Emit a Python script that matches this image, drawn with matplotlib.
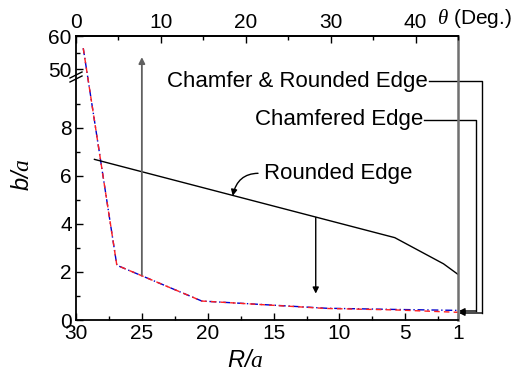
import numpy as np
import matplotlib
matplotlib.use('Agg')
import matplotlib.pyplot as plt
from matplotlib.ticker import FixedLocator

plt.rcParams['font.family'] = ['Liberation Sans', 'DejaVu Sans']
plt.rcParams['mathtext.fontset'] = 'custom'
plt.rcParams['mathtext.it'] = 'Liberation Serif:italic'
plt.rcParams['mathtext.sf'] = 'Liberation Sans:italic'
plt.rcParams['mathtext.rm'] = 'Liberation Sans'

# data
r_chamfer = [29.45, 26.9, 20.45, 11.0, 5.8, 1.0]
b_chamfer = [56.3, 2.28, 0.79, 0.48, 0.42, 0.32]       # red dashed
b_chamfer_round = [56.3, 2.28, 0.79, 0.49, 0.44, 0.40]  # blue dash-dot
r_round = [28.6, 5.8, 2.1, 1.0]
b_round = [6.69, 3.43, 2.34, 1.9]

x_ticks = [30, 25, 20, 15, 10, 5, 1]
x_minor = [27.5, 22.5, 17.5, 12.5, 7.5, 2.5]
y_ticks = [0, 2, 4, 6, 8, 50, 60]
y_minor = [1, 3, 5, 7, 9, 55]
theta_ticks = [0, 10, 20, 30, 40]
theta_minor = [5, 15, 25, 35, 45]

# broken y axis: 0..10 linear, then jump to 46.7..60 compressed
Y0 = 46.7
RATIO = 3.3 / 24.0


def fwd(y):
    y = np.asarray(y, dtype=float)
    return np.where(y <= 10, y, np.where(y >= Y0, 10 + (y - Y0) * RATIO, 10))


def inv(u):
    u = np.asarray(u, dtype=float)
    return np.where(u <= 10, u, Y0 + (u - 10) / RATIO)


fig = plt.figure(figsize=(5.18, 3.74), dpi=100)
ax = fig.add_axes([76 / 518, 54 / 374, 382 / 518, 284 / 374])
ax.set_yscale('function', functions=(fwd, inv))
ax.set_xlim(30, 1)
ax.set_ylim(0, 60)

ax.plot(r_chamfer, b_chamfer_round, color='#0000cc', lw=1.0, dashes=(5, 2, 1, 2))
ax.plot(r_chamfer, b_chamfer, color='#ff2020', lw=1.0, dashes=(4, 3))
ax.plot(r_round, b_round, color='black', lw=1.0)

ax.xaxis.set_major_locator(FixedLocator(x_ticks))
ax.xaxis.set_minor_locator(FixedLocator(x_minor))
ax.set_xticklabels([str(t) for t in x_ticks])
ax.yaxis.set_major_locator(FixedLocator(y_ticks))
ax.yaxis.set_minor_locator(FixedLocator(y_minor))
ax.set_yticklabels([str(t) for t in y_ticks])
ax.tick_params(which='both', direction='in', width=1, labelsize=15, top=False, right=False)
ax.tick_params(which='major', length=5, pad=3)
ax.tick_params(which='minor', length=3)
for s in ['left', 'bottom', 'top']:
    ax.spines[s].set_linewidth(1.3)
ax.spines['right'].set_color('#707070')
ax.spines['right'].set_linewidth(1.8)

ax2 = ax.twiny()
ax2.set_xlim(0, 45)
ax2.xaxis.set_major_locator(FixedLocator(theta_ticks))
ax2.xaxis.set_minor_locator(FixedLocator(theta_minor))
ax2.tick_params(which='both', direction='in', width=1, labelsize=15)
ax2.tick_params(which='major', length=5, pad=3)
ax2.tick_params(which='minor', length=3)
for s in ['left', 'bottom', 'right']:
    ax2.spines[s].set_visible(False)
ax2.spines['top'].set_linewidth(1.3)
ax2.text(0.945, 1.063, r'$\theta$ (Deg.)', transform=ax.transAxes, fontsize=15,
         ha='left', va='center')


def px(x, y):
    return ((x - 76) / 382, (320 - y) / 284)


# axis break marks
for dy in (-2, 2):
    p1 = px(70, 80 + dy)
    p2 = px(82, 74 + dy)
    ax.plot([p1[0], p2[0]], [p1[1], p2[1]], color='black', lw=1.0,
            transform=ax.transAxes, clip_on=False)

# annotations
ax.annotate('', xy=(25, 53.6), xytext=(25, 1.88),
            arrowprops=dict(arrowstyle='-|>', color='#606060', lw=1.3,
                            shrinkA=0, shrinkB=0, mutation_scale=9))
ax.annotate('', xy=(11.8, 1.1), xytext=(11.8, 4.27),
            arrowprops=dict(arrowstyle='-|>', color='black', lw=1.0,
                            shrinkA=0, shrinkB=0, mutation_scale=9))
ax.annotate('Rounded Edge', xy=(18.1, 5.17), xytext=(15.76, 6.1), fontsize=16,
            ha='left', va='center',
            arrowprops=dict(arrowstyle='-|>', color='black', lw=1.0,
                            connectionstyle='arc3,rad=0.45', shrinkA=2, shrinkB=0,
                            mutation_scale=9, relpos=(0, 0.5)))

# labels with elbow connectors to curve ends
labels = [('Chamfer & Rounded Edge', 428, 81, 482, 313),
          ('Chamfered Edge', 423, 120, 476, 311)]
for txt, tx, ty, cx, cy in labels:
    ax.text(*px(tx, ty), txt, transform=ax.transAxes, fontsize=16,
            ha='right', va='center')
    a, b, c = px(tx + 1, ty), px(cx, ty), px(cx, cy)
    ax.plot([a[0], b[0], c[0]], [a[1], b[1], c[1]], color='black', lw=1.0,
            transform=ax.transAxes, clip_on=False)
    ax.annotate('', xy=px(459, cy), xytext=c, xycoords='axes fraction',
                textcoords='axes fraction',
                arrowprops=dict(arrowstyle='-|>', color='black', lw=1.0,
                                shrinkA=0, shrinkB=0, mutation_scale=8))

fig.text(23 / 518, 1 - 175 / 374, r'$\mathsf{b/}\mathit{a}$', rotation=90,
         fontsize=17, ha='center', va='center')
fig.text(245 / 518, 1 - 361 / 374, r'$\mathsf{R/}\mathit{a}$',
         fontsize=17, ha='center', va='center')

fig.savefig('out.png', dpi=100)
